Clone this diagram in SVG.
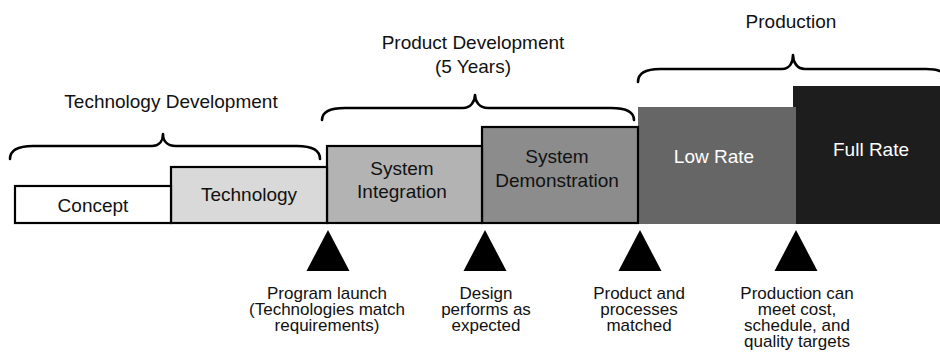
<svg xmlns="http://www.w3.org/2000/svg" width="940" height="353" viewBox="0 0 940 353">
<style>
text{font-family:"Liberation Sans",Arial,Helvetica,sans-serif;fill:#111;}
.hd{font-size:19px;text-anchor:middle;}
.bx{font-size:19px;text-anchor:middle;}
.ms{font-size:17px;text-anchor:middle;}
.box{stroke:#000;stroke-width:2.2;}
.brace{fill:none;stroke:#000;stroke-width:2.6;stroke-linecap:round;stroke-linejoin:round;}
.tri{fill:#000;}
.wt{fill:#fff;}
</style>
<rect width="940" height="353" fill="#fff"/>

<g id="brackets">
<path class="brace" d="M10,159 Q10,146 33,146 L152,146 C160,146 163,140 163,134 C163,140 166,146 176,146 L297,146 Q320,146 320,159"/>
<path class="brace" d="M322,120 Q322,108 345,108 L463,108 C471,108 475,101 475,95 C475,101 479,108 488,108 L611,108 Q634,108 634,120"/>
<path class="brace" d="M638,82 Q638,69 660,69 L782,69 C790,69 793,62 793,55 C793,62 797,69 805,69 L926,69 Q948,69 948,82"/>
</g>

<g id="header-tech">
<text class="hd" x="171" y="108">Technology Development</text>
</g>
<g id="header-product">
<text class="hd" x="473" y="49">Product Development</text>
<text class="hd" x="473" y="73">(5 Years)</text>
</g>
<g id="header-production">
<text class="hd" x="791" y="28">Production</text>
</g>

<g id="full-rate">
<rect x="793" y="86" width="150" height="138" fill="#1d1d1d"/>
<text class="bx wt" x="871" y="156">Full Rate</text>
</g>
<g id="low-rate">
<rect x="638" y="107" width="158" height="117" fill="#666666"/>
<text class="bx wt" x="714" y="163">Low Rate</text>
</g>
<g id="system-demonstration">
<rect class="box" x="482" y="127" width="156" height="96" fill="#8c8c8c"/>
<text class="bx" x="557" y="163">System</text>
<text class="bx" x="557" y="187">Demonstration</text>
</g>
<g id="system-integration">
<rect class="box" x="327" y="146" width="155" height="77" fill="#b3b3b3"/>
<text class="bx" x="402" y="175">System</text>
<text class="bx" x="402" y="198">Integration</text>
</g>
<g id="technology">
<rect class="box" x="171" y="167" width="156" height="56" fill="#d9d9d9"/>
<text class="bx" x="249" y="201">Technology</text>
</g>
<g id="concept">
<rect class="box" x="15" y="186" width="156" height="37" fill="#fff"/>
<text class="bx" x="93" y="212">Concept</text>
</g>

<g id="milestone-program-launch">
<polygon class="tri" points="328,230 306.5,271 349.5,271"/>
<text class="ms" x="327" y="298.5">Program launch</text>
<text class="ms" x="327" y="314.8">(Technologies match</text>
<text class="ms" x="327" y="331.1">requirements)</text>
</g>
<g id="milestone-design">
<polygon class="tri" points="485,230 463.5,271 506.5,271"/>
<text class="ms" x="486" y="298.5">Design</text>
<text class="ms" x="486" y="314.8">performs as</text>
<text class="ms" x="486" y="331.1">expected</text>
</g>
<g id="milestone-product-processes">
<polygon class="tri" points="640,230 618.5,271 661.5,271"/>
<text class="ms" x="639" y="298.5">Product and</text>
<text class="ms" x="639" y="314.8">processes</text>
<text class="ms" x="639" y="331.1">matched</text>
</g>
<g id="milestone-production">
<polygon class="tri" points="796,230 774.5,271 817.5,271"/>
<text class="ms" x="797" y="298.5">Production can</text>
<text class="ms" x="797" y="314.8">meet cost,</text>
<text class="ms" x="797" y="331.1">schedule, and</text>
<text class="ms" x="797" y="347.4">quality targets</text>
</g>
</svg>
